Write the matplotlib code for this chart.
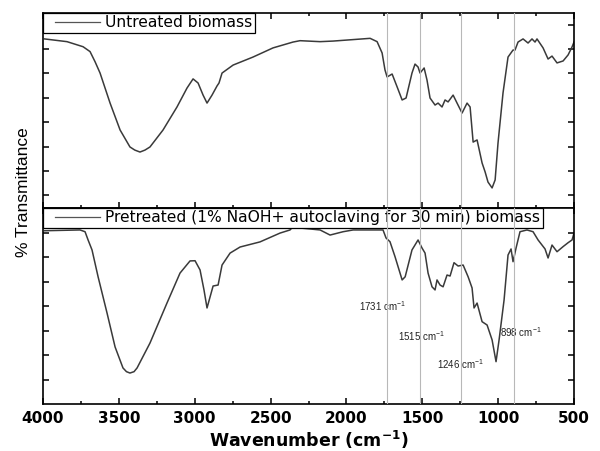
import numpy as np
import matplotlib.pyplot as plt
from matplotlib.ticker import MultipleLocator
from matplotlib.legend_handler import HandlerLine2D

plt.rcParams['mathtext.default'] = 'regular'

# FTIR spectra, wavenumber (cm-1) vs transmittance (arbitrary % scale per panel)
wn_untreated = [3990, 3842, 3736, 3690, 3657, 3624, 3558, 3492, 3427, 3395,
                3361, 3328, 3295, 3209, 3117, 3051, 3011, 2978, 2945, 2919,
                2886, 2853, 2840, 2820, 2747, 2616, 2484, 2352, 2306, 2174,
                2088, 1844, 1798, 1765, 1746, 1732, 1699, 1666, 1633, 1607,
                1568, 1548, 1528, 1515, 1488, 1469, 1449, 1416, 1396, 1370,
                1350, 1330, 1297, 1271, 1238, 1205, 1185, 1165, 1139, 1106,
                1086, 1067, 1040, 1020, 1001, 968, 935, 902, 889, 869,
                836, 803, 777, 757, 744, 704, 671, 645, 612, 572,
                539, 513, 500]
t_untreated = [86.7, 85.3, 82.7, 80.2, 75.0, 69.2, 53.8, 40.0, 31.3, 29.7,
               28.7, 29.7, 31.3, 40.0, 51.8, 61.5, 66.2, 64.1, 57.9, 53.8,
               57.9, 62.6, 64.1, 69.2, 73.3, 77.4, 82.1, 85.1, 85.8, 85.3,
               85.6, 87.0, 85.3, 79.5, 70.8, 67.2, 68.7, 62.1, 55.4, 56.4,
               69.2, 73.8, 72.3, 69.2, 71.8, 65.6, 56.4, 52.8, 53.8, 51.8,
               55.4, 54.4, 57.9, 53.8, 48.7, 53.8, 51.8, 33.8, 34.9, 23.1,
               18.5, 13.3, 10.3, 14.4, 33.3, 59.0, 77.4, 81.0, 81.0, 85.1,
               86.7, 84.6, 86.7, 85.1, 86.7, 82.1, 76.4, 77.9, 74.4, 75.4,
               78.5, 82.6, 85.1]

wn_pretreated = [3990, 3756, 3723, 3703, 3677, 3637, 3578, 3525, 3473, 3450,
                 3427, 3400, 3380, 3295, 3183, 3097, 3031, 2998, 2965, 2939,
                 2919, 2899, 2879, 2846, 2820, 2767, 2701, 2570, 2438, 2372,
                 2352, 2306, 2174, 2108, 2022, 1956, 1759, 1739, 1713, 1680,
                 1633, 1613, 1568, 1528, 1502, 1482, 1462, 1436, 1416, 1403,
                 1383, 1363, 1337, 1317, 1291, 1264, 1231, 1198, 1172, 1159,
                 1139, 1106, 1073, 1040, 1014, 994, 961, 935, 915, 902,
                 882, 856, 810, 770, 737, 691, 671, 645, 612, 572,
                 539, 513, 500]
t_pretreated = [88.4, 88.8, 87.9, 83.7, 78.6, 64.9, 46.4, 29.1, 18.4, 16.5,
                15.8, 16.5, 18.4, 31.1, 51.5, 66.8, 73.0, 73.1, 68.4, 58.2,
                49.0, 54.6, 60.2, 60.7, 70.9, 77.0, 80.1, 82.7, 87.2, 88.8,
                90.5, 89.8, 88.8, 86.2, 87.9, 88.8, 88.8, 84.7, 82.8, 75.2,
                63.3, 64.9, 78.6, 83.7, 79.6, 77.0, 66.8, 59.8, 58.2, 63.3,
                60.7, 59.8, 65.8, 65.3, 72.1, 70.4, 70.9, 64.9, 59.2, 49.0,
                51.5, 42.0, 40.3, 32.7, 21.6, 32.7, 53.1, 76.0, 79.1, 72.6,
                79.6, 87.9, 88.8, 87.9, 83.7, 79.1, 74.5, 81.1, 77.7, 80.3,
                82.3, 83.7, 87.2]

peak_wn = [1731, 1515, 1246, 898]
# where each peak label sits in the lower panel (wavenumber, transmittance)
label_xy = [(1765, 50.0), (1508, 34.7), (1245, 20.4), (849, 36.7)]

labels = ['Untreated biomass',
          'Pretreated (1% NaOH+ autoclaving for 30 min) biomass']

fig = plt.figure(figsize=(6, 4.51), dpi=100)
ax_top = fig.add_axes([0.0717, 0.5388, 0.885, 0.4324])
ax_bot = fig.add_axes([0.0717, 0.1042, 0.885, 0.4346])

line_col = '#3a3a3a'
ln_top, = ax_top.plot(wn_untreated, t_untreated, color=line_col, lw=1.1,
                      label=labels[0])
ln_bot, = ax_bot.plot(wn_pretreated, t_pretreated, color=line_col, lw=1.1,
                      label=labels[1])

for ax, ln, ystart in ((ax_top, ln_top, 6.5), (ax_bot, ln_bot, 12.5)):
    ax.set_xlim(4000, 500)
    ax.set_ylim(0, 100)
    ax.xaxis.set_major_locator(MultipleLocator(500))
    ax.xaxis.set_minor_locator(MultipleLocator(250))
    ax.set_yticks(np.arange(ystart, 100, 12.5))
    ax.tick_params(which='both', direction='in', top=True, right=True,
                   labelleft=False, width=1.1)
    ax.tick_params(which='major', length=4.5)
    ax.tick_params(which='minor', length=2.5)
    for s in ax.spines.values():
        s.set_linewidth(1.2)
    for w in peak_wn:
        ax.axvline(w, color='#b8b8b8', lw=0.8, zorder=6)
    # legend sample line is inset a little from the box edge
    leg = ax.legend(loc='upper left', borderaxespad=0, fancybox=False,
                    edgecolor='black', framealpha=1, handlelength=3.5,
                    handletextpad=0.35, borderpad=0.15,
                    handler_map={ln: HandlerLine2D(xpad=0.6)},
                    prop={'family': 'DejaVu Sans', 'size': 11.2})
    leg.get_frame().set_linewidth(0.9)
    for h in leg.get_lines():
        h.set_linewidth(0.9)
        h.set_color('#555555')

ax_top.tick_params(labelbottom=False)
ax_bot.tick_params(axis='x', pad=5, labelsize=11)
for lbl in ax_bot.get_xticklabels():
    lbl.set_fontweight('bold')

ax_bot.set_xlabel('Wavenumber (cm$^{-1}$)', fontsize=12.5, fontweight='bold',
                  labelpad=2)

for w, (x, y) in zip(peak_wn, label_xy):
    ax_bot.text(x, y, '%d cm$^{-1}$' % w, fontsize=7, family='Liberation Sans',
                ha='center', va='center', color='#222222')

fig.text(0.04, 0.573, '% Transmittance', rotation=90, ha='center', va='center',
         fontsize=12.5, family='Liberation Sans')

fig.savefig('out.png', dpi=100)
